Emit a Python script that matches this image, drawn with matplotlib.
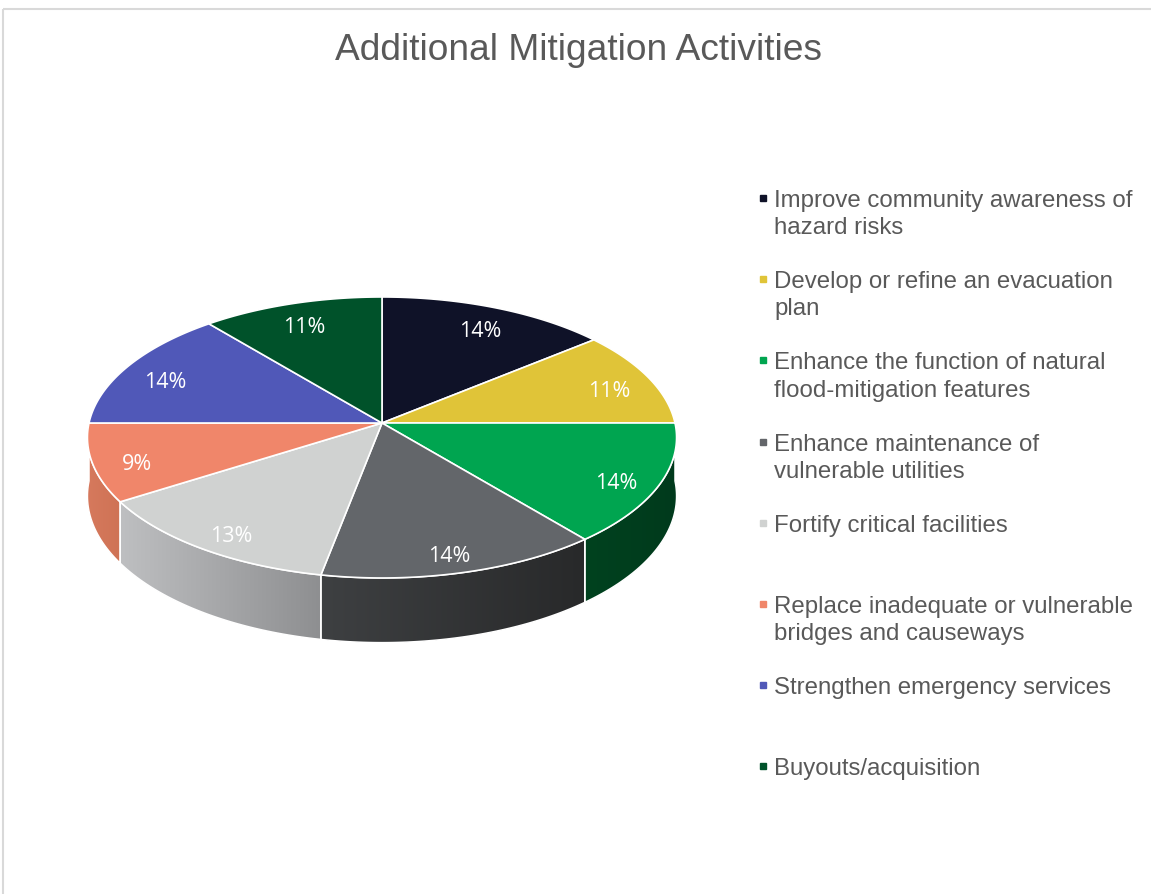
import numpy as np
import matplotlib
matplotlib.use("Agg")
import matplotlib.pyplot as plt
from matplotlib.patches import Polygon, Rectangle
from matplotlib.colors import to_rgb

# ---- data -------------------------------------------------------------
title = "Additional Mitigation Activities"
categories = [
    "Improve community awareness of\nhazard risks",
    "Develop or refine an evacuation\nplan",
    "Enhance the function of natural\nflood-mitigation features",
    "Enhance maintenance of\nvulnerable utilities",
    "Fortify critical facilities",
    "Replace inadequate or vulnerable\nbridges and causeways",
    "Strengthen emergency services",
    "Buyouts/acquisition",
]
shares = [14, 11, 14, 14, 13, 9, 14, 11]

# ---- style ------------------------------------------------------------
top_colors = ["#0f1228", "#e0c438", "#00a550", "#63666a",
              "#d0d2d1", "#f0866a", "#5058b8", "#00522a"]
# side wall shading (left end, right end) for each slice
side_colors = [("#070914", "#070914"), ("#8a7a20", "#8a7a20"),
               ("#00421f", "#003a1c"), ("#3e4042", "#28292a"),
               ("#bebfc1", "#8e8f91"), ("#d6795d", "#cf7355"),
               ("#343a80", "#343a80"), ("#003018", "#003018")]
text_grey = "#595959"

W, H = 1151, 894
fig = plt.figure(figsize=(W / 100, H / 100), dpi=100)
ax = fig.add_axes([0, 0, 1, 1])
ax.axis("off")

# pie geometry (pixel space) with a simple perspective tilt
CX, CY = 382, 423
RX, RY = 293, 139
K = 0.103        # perspective strength
DEPTH = 58       # thickness of the disc


def project(theta, r=1.0, drop=0.0):
    c = r * np.cos(theta)
    s = r * np.sin(theta)
    f = 1.0 / (1.0 + K * s)
    return CX + RX * c * f, CY - RY * s * f + drop * f


total = float(sum(shares))
edges = 90.0 - 360.0 * np.concatenate([[0], np.cumsum(shares)]) / total

# side walls of the front half, shaded with a horizontal gradient
for i in range(len(shares)):
    hi = min(edges[i], 0.0)
    lo = max(edges[i + 1], -180.0)
    if hi <= lo:
        continue
    th = np.radians(np.linspace(hi, lo, 160))
    tx, ty = project(th)
    bx, by = project(th, drop=DEPTH)
    outline = list(zip(tx, ty)) + list(zip(bx[::-1], by[::-1]))
    cl = np.array(to_rgb(side_colors[i][0]))
    cr = np.array(to_rgb(side_colors[i][1]))
    wall = Polygon(outline, closed=True, facecolor=cl, edgecolor="none",
                   zorder=1)
    ax.add_patch(wall)
    x0, x1 = min(tx.min(), bx.min()), max(tx.max(), bx.max())
    y0, y1 = min(ty.min(), by.min()), max(ty.max(), by.max())
    t = np.linspace(0, 1, 256)[None, :, None]
    grad = cl[None, None, :] * (1 - t) + cr[None, None, :] * t
    im = ax.imshow(grad, extent=(x0, x1, y1, y0), aspect="auto",
                   interpolation="bilinear", zorder=1.5)
    im.set_clip_path(wall)
    ax.add_patch(Polygon(outline, closed=True, fill=False,
                         edgecolor="white", lw=1.1, zorder=2,
                         joinstyle="round"))

# top face
for i in range(len(shares)):
    th = np.radians(np.linspace(edges[i], edges[i + 1], 120))
    x, y = project(th)
    pts = [(CX, CY)] + list(zip(x, y))
    ax.add_patch(Polygon(pts, closed=True, facecolor=top_colors[i],
                         edgecolor="white", lw=1.2, zorder=3,
                         joinstyle="round"))

# percentage labels
for i, v in enumerate(shares):
    mid = np.radians(0.5 * (edges[i] + edges[i + 1]))
    lx, ly = project(mid, r=0.85, drop=8)
    ax.text(lx, ly, f"{v / total * 100:.0f}%", ha="center", va="center",
            color="white", fontsize=15.5, family="Open Sans", zorder=4)

# title
ax.text(579, 50, title, ha="center", va="center", color=text_grey,
        fontsize=26.7, family="Liberation Sans")

# legend
for i, (lab, col) in enumerate(zip(categories, top_colors)):
    y0 = 198 + 81.2 * i
    ax.plot([763], [y0], marker="s", markersize=5, color=col,
            linestyle="none", zorder=5)
    ax.text(774, y0 - 8, lab, ha="left", va="top", color=text_grey,
            fontsize=17.3, family="Liberation Sans", linespacing=1.3)

# chart frame
ax.add_patch(Rectangle((3.5, 8.5), W + 20, H + 20, fill=False,
                       edgecolor="#d9d9d9", lw=1.5, clip_on=False))

ax.set_xlim(0, W)
ax.set_ylim(H, 0)
fig.savefig("out.png", dpi=100)
